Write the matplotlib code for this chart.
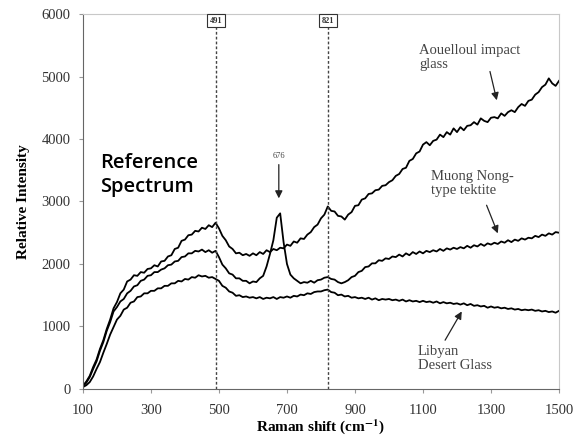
import numpy as np
import matplotlib
matplotlib.use("Agg")
import matplotlib.pyplot as plt

# ---- data ----
raman_shift = list(range(100, 1501, 10))

aouelloul = [
    50, 120, 210, 350, 470, 640, 780, 960, 1110, 1290,
    1390, 1530, 1590, 1720, 1750, 1820, 1810, 1870, 1860, 1920,
    1930, 1980, 1960, 2040, 2050, 2120, 2140, 2240, 2260, 2370,
    2390, 2460, 2470, 2530, 2520, 2580, 2560, 2620, 2590, 2660,
    2570, 2450, 2380, 2280, 2240, 2170, 2180, 2140, 2160, 2130,
    2170, 2140, 2190, 2160, 2220, 2190, 2240, 2220, 2260, 2250,
    2310, 2290, 2360, 2340, 2410, 2400, 2470, 2510, 2590, 2630,
    2730, 2790, 2920, 2850, 2840, 2770, 2760, 2710, 2790, 2830,
    2930, 2940, 3030, 3050, 3120, 3130, 3180, 3190, 3250, 3260,
    3310, 3340, 3410, 3440, 3520, 3540, 3650, 3680, 3770, 3800,
    3910, 3950, 3900, 3970, 3990, 4070, 4030, 4110, 4070, 4170,
    4110, 4190, 4140, 4210, 4220, 4270, 4230, 4330, 4290, 4270,
    4340, 4350, 4330, 4410, 4370, 4430, 4460, 4430, 4510, 4560,
    4530, 4610, 4630, 4710, 4750, 4830, 4870, 4970, 4890, 4850,
    4930,
]

muong_nong = [
    40, 100, 190, 320, 440, 610, 750, 930, 1070, 1240,
    1310, 1400, 1440, 1530, 1570, 1640, 1660, 1730, 1750, 1810,
    1820, 1870, 1870, 1910, 1930, 1980, 1990, 2040, 2050, 2110,
    2120, 2170, 2170, 2210, 2200, 2230, 2190, 2220, 2180, 2210,
    2110, 1990, 1930, 1850, 1830, 1770, 1770, 1730, 1730, 1690,
    1720, 1710, 1770, 1810, 1960, 2160, 2380, 2740, 2810, 2350,
    2000, 1830, 1770, 1730, 1690, 1710, 1700, 1730, 1700, 1740,
    1750, 1780, 1790, 1760, 1750, 1710, 1690, 1710, 1740, 1790,
    1810, 1870, 1890, 1950, 1960, 2010, 2010, 2060, 2050, 2090,
    2080, 2120, 2110, 2150, 2120, 2170, 2140, 2190, 2160, 2200,
    2170, 2210, 2190, 2220, 2200, 2240, 2210, 2250, 2230, 2260,
    2240, 2270, 2250, 2290, 2260, 2300, 2280, 2320, 2290, 2330,
    2310, 2340, 2320, 2360, 2340, 2380, 2350, 2390, 2370, 2410,
    2390, 2420, 2410, 2450, 2430, 2470, 2450, 2490, 2470, 2510,
    2500,
]

libyan = [
    30, 60, 110, 200, 320, 430, 580, 720, 870, 990,
    1110, 1170, 1270, 1300, 1380, 1400, 1470, 1480, 1530, 1530,
    1570, 1570, 1610, 1610, 1650, 1650, 1690, 1690, 1730, 1720,
    1760, 1750, 1790, 1780, 1820, 1800, 1810, 1780, 1790, 1760,
    1730, 1650, 1620, 1560, 1540, 1490, 1500, 1470, 1480, 1460,
    1470, 1450, 1470, 1440, 1460, 1450, 1470, 1440, 1470, 1460,
    1480, 1460, 1490, 1480, 1510, 1500, 1530, 1520, 1550, 1560,
    1560, 1580, 1590, 1550, 1540, 1500, 1510, 1480, 1490, 1460,
    1470, 1450, 1460, 1440, 1460, 1430, 1450, 1420, 1440, 1430,
    1440, 1420, 1430, 1410, 1430, 1400, 1420, 1400, 1410, 1390,
    1410, 1390, 1400, 1380, 1400, 1370, 1390, 1370, 1380, 1360,
    1370, 1350, 1370, 1340, 1360, 1330, 1340, 1320, 1330, 1300,
    1320, 1300, 1310, 1290, 1300, 1280, 1290, 1270, 1280, 1260,
    1270, 1260, 1270, 1250, 1260, 1240, 1250, 1230, 1240, 1220,
    1250,
]

marker_lines = [491, 821]
x_ticks = [100, 300, 500, 700, 900, 1100, 1300, 1500]
y_ticks = [0, 1000, 2000, 3000, 4000, 5000, 6000]

serif = "Liberation Serif"
plt.rcParams["mathtext.fontset"] = "stix"

fig = plt.figure(figsize=(5.76, 4.38), dpi=100)
ax = fig.add_axes([0.144, 0.112, 0.8265, 0.856])

for series in (aouelloul, muong_nong, libyan):
    ax.plot(raman_shift, series, color="black", lw=1.3)

ax.set_xlim(100, 1500)
ax.set_ylim(0, 6000)
ax.set_xticks(x_ticks)
ax.set_yticks(y_ticks)
for lab in ax.get_xticklabels() + ax.get_yticklabels():
    lab.set_fontfamily(serif)
    lab.set_fontsize(10.5)
    lab.set_color("#333333")
ax.tick_params(axis="both", length=3, color="#999999", pad=6)
ax.tick_params(axis="x", pad=8)

for side in ("left", "bottom"):
    ax.spines[side].set_color("#666666")
for side in ("top", "right"):
    ax.spines[side].set_color("#c8c8c8")

for xv in marker_lines:
    ax.axvline(xv, color="#444444", lw=1.0, ls=(0, (2, 1.5)))
    ax.text(xv, 5960, str(xv), ha="center", va="top", fontsize=6,
            fontfamily=serif, fontweight="bold", color="#333333",
            bbox=dict(boxstyle="square,pad=0.35", fc="white", ec="#333333", lw=0.8))

ax.set_xlabel("Raman shift (cm$^{\\mathbf{-1}}$)", fontfamily=serif,
              fontweight="bold", fontsize=11, labelpad=0)
ax.set_ylabel("Relative Intensity", fontfamily=serif, fontweight="bold",
              fontsize=11, labelpad=8)

ax.text(150, 3420, "Reference\nSpectrum", fontfamily="Open Sans",
        fontsize=14.5, fontweight="semibold", color="black",
        ha="left", va="center", linespacing=1.25)

ann_kw = dict(fontfamily=serif, fontsize=10.5, color="#444444",
              ha="left", va="center", linespacing=1.1)
ax.text(1088, 5310, "Aouelloul impact\nglass", **ann_kw)
ax.text(1125, 3290, "Muong Nong-\ntype tektite", **ann_kw)
ax.text(1085, 490, "Libyan\nDesert Glass", **ann_kw)

arrow = dict(arrowstyle="-|>", color="#222222", lw=0.9,
             mutation_scale=11, shrinkA=0, shrinkB=0)
ax.annotate("", xy=(1317, 4620), xytext=(1297, 5080), arrowprops=arrow)
ax.annotate("", xy=(1320, 2490), xytext=(1287, 2940), arrowprops=arrow)
ax.annotate("", xy=(1214, 1240), xytext=(1165, 780), arrowprops=arrow)
ax.annotate("", xy=(676, 3050), xytext=(676, 3590), arrowprops=arrow)
ax.text(676, 3730, "676", ha="center", va="center", fontsize=6,
        fontfamily=serif, color="#444444")

fig.savefig("out.png", dpi=100)
